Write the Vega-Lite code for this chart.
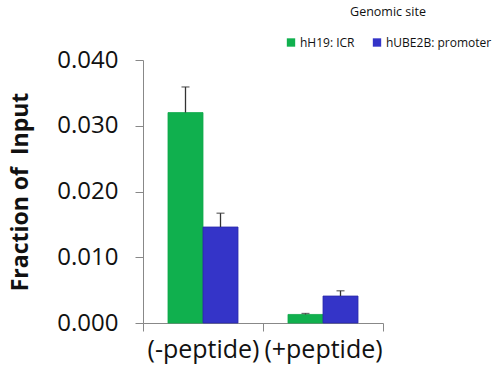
{
  "$schema": "https://vega.github.io/schema/vega-lite/v6.json",
  "width": 240,
  "height": 263,
  "autosize": "none",
  "padding": {"left": 143, "top": 60, "right": 115, "bottom": 61},
  "background": "white",
  "config": {
    "view": {"stroke": null},
    "font": "Open Sans"
  },
  "data": {
    "values": [
      {"condition": "(-peptide)", "site": "hH19: ICR", "value": 0.0320, "upper": 0.0359},
      {"condition": "(-peptide)", "site": "hUBE2B: promoter", "value": 0.0146, "upper": 0.0167},
      {"condition": "(+peptide)", "site": "hH19: ICR", "value": 0.0013, "upper": 0.00145},
      {"condition": "(+peptide)", "site": "hUBE2B: promoter", "value": 0.0041, "upper": 0.0049}
    ]
  },
  "encoding": {
    "x": {
      "field": "condition",
      "type": "nominal",
      "sort": ["(-peptide)", "(+peptide)"],
      "scale": {"paddingInner": 0, "paddingOuter": 0},
      "axis": {
        "title": null,
        "labelAngle": 0,
        "labelFontSize": 25,
        "labelColor": "#111111",
        "labelPadding": 6,
        "domainColor": "#888888",
        "tickColor": "#888888",
        "tickSize": 8,
        "tickBand": "extent",
        "labelFont": "Open Sans"
      }
    },
    "xOffset": {
      "field": "site",
      "type": "nominal",
      "sort": ["hH19: ICR", "hUBE2B: promoter"],
      "scale": {"paddingInner": 0, "paddingOuter": 0.714}
    }
  },
  "layer": [
    {
      "mark": {"type": "bar", "strokeWidth": 0.8},
      "encoding": {
        "y": {
          "field": "value",
          "type": "quantitative",
          "scale": {"domain": [0, 0.04]},
          "axis": {
            "title": "Fraction of\u00a0 Input",
            "titleFontSize": 23,
            "titleFontWeight": "bold",
            "titleColor": "#111111",
            "titlePadding": 24,
            "values": [0, 0.01, 0.02, 0.03, 0.04],
            "format": ".3f",
            "labelFontSize": 24,
            "labelColor": "#111111",
            "labelPadding": 17,
            "grid": false,
            "domainColor": "#888888",
            "tickColor": "#888888",
            "tickSize": 8
          }
        },
        "color": {
          "field": "site",
          "type": "nominal",
          "sort": ["hH19: ICR", "hUBE2B: promoter"],
          "scale": {"domain": ["hH19: ICR", "hUBE2B: promoter"], "range": ["#10B04E", "#3434C8"]},
          "legend": {
            "title": "Genomic site",
            "orient": "none",
            "legendX": 142,
            "legendY": -54,
            "direction": "horizontal",
            "titleAnchor": "middle",
            "titleFontSize": 12.5,
            "titleFontWeight": "normal",
            "titleColor": "#111111",
            "titlePadding": 18,
            "labelFontSize": 12,
            "labelColor": "#111111",
            "symbolType": "square",
            "symbolSize": 70,
            "symbolStrokeWidth": 0,
            "columnPadding": 16,
            "labelOffset": 3
          }
        },
        "stroke": {
          "field": "site",
          "type": "nominal",
          "scale": {"domain": ["hH19: ICR", "hUBE2B: promoter"], "range": ["#0FA84A", "#2A2AA8"]},
          "legend": null
        }
      }
    },
    {
      "mark": {"type": "rule", "color": "#333333", "strokeWidth": 1.3},
      "encoding": {
        "y": {"field": "value", "type": "quantitative"},
        "y2": {"field": "upper"}
      }
    },
    {
      "mark": {"type": "tick", "color": "#333333", "thickness": 1.3, "size": 8, "orient": "horizontal"},
      "encoding": {
        "y": {"field": "upper", "type": "quantitative"}
      }
    }
  ]
}
